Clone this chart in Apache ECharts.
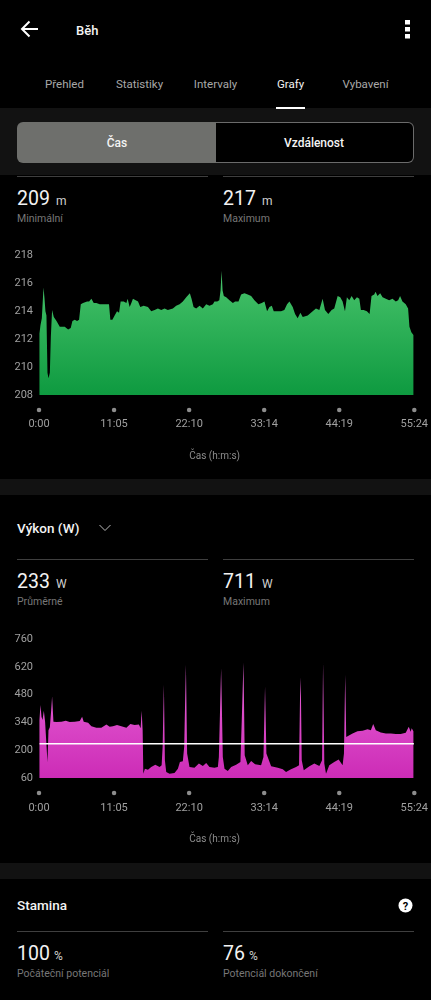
<!DOCTYPE html>
<html lang="cs"><head><meta charset="utf-8">
<script src="https://cdn.jsdelivr.net/npm/echarts@6/dist/echarts.min.js"></script>
<style>
html,body{margin:0;padding:0;background:#000;width:431px;height:1000px;overflow:hidden}
body{position:relative;font-family:Roboto,sans-serif;color:#fff}
#chart{position:absolute;left:0;top:0;width:431px;height:1000px}
.t{position:absolute;white-space:nowrap;line-height:1;transform:translateY(-50%)}
.c{transform:translate(-50%,-50%)}
.b{position:absolute;left:0;width:431px;background:#121212}
.l{position:absolute;height:1px;background:#3f3f3f}
.tab{font-size:11.5px;color:#a8a8a8}
.big{font-size:19.5px;color:#f2f2f2}
.unit{font-size:12px;color:#d0d0d0}
.sub{font-size:10.5px;color:#777}
.h{font-size:13.5px;font-weight:500;color:#f4f4f4}
svg{position:absolute}
</style></head><body>
<div class="b" style="top:108px;height:67px"></div>
<div class="b" style="top:479px;height:16px"></div>
<div class="b" style="top:863px;height:16px"></div>

<svg style="left:20px;top:19px" width="20" height="20" viewBox="0 0 20 20"><path d="M2 10H18M9.5 2.5L2 10L9.5 17.5" fill="none" stroke="#fff" stroke-width="2"/></svg>
<div class="t h" style="left:76px;top:30px;font-size:13px">Běh</div>
<svg style="left:404px;top:19px" width="8" height="21"><rect x="1" y="1" width="5" height="4.5" fill="#fff"/><rect x="1" y="8" width="5" height="4.5" fill="#fff"/><rect x="1" y="15" width="5" height="4.5" fill="#fff"/></svg>

<div class="t tab c" style="left:64.5px;top:85px">Přehled</div>
<div class="t tab c" style="left:139.5px;top:85px">Statistiky</div>
<div class="t tab c" style="left:215.5px;top:85px">Intervaly</div>
<div class="t tab c" style="left:290.5px;top:85px;color:#f2f2f2">Grafy</div>
<div class="t tab c" style="left:365.5px;top:85px">Vybavení</div>
<div style="position:absolute;left:276px;top:107px;width:29px;height:2px;background:#fff"></div>

<div style="position:absolute;left:17px;top:122px;width:199px;height:41px;background:#6e6f6c;border-radius:6px 0 0 6px"></div>
<div style="position:absolute;left:216px;top:122px;width:197px;height:39px;background:#000;border:1px solid #6b6b6b;border-left:0;border-radius:0 6px 6px 0"></div>
<div class="t c" style="left:117px;top:143px;font-size:12px;font-weight:500;color:#f4f4f4">Čas</div>
<div class="t c" style="left:314px;top:143px;font-size:12px;font-weight:500;color:#f4f4f4">Vzdálenost</div>

<div class="l" style="left:17px;top:176px;width:191px"></div>
<div class="l" style="left:223px;top:176px;width:191px"></div>
<div class="t big" style="left:17px;top:199px">209<span class="unit" style="margin-left:6px">m</span></div>
<div class="t sub" style="left:17px;top:219px">Minimální</div>
<div class="t big" style="left:223px;top:199px">217<span class="unit" style="margin-left:6px">m</span></div>
<div class="t sub" style="left:223px;top:219px">Maximum</div>

<div class="t h" style="left:17px;top:529px">Výkon (W)</div>
<svg style="left:98px;top:523px" width="14" height="10"><path d="M1.5 2L7 7.5L12.5 2" fill="none" stroke="#bbb" stroke-width="1"/></svg>
<div class="l" style="left:17px;top:559px;width:191px"></div>
<div class="l" style="left:223px;top:559px;width:191px"></div>
<div class="t big" style="left:17px;top:582px">233<span class="unit" style="margin-left:6px">W</span></div>
<div class="t sub" style="left:17px;top:602px">Průměrné</div>
<div class="t big" style="left:223px;top:582px">711<span class="unit" style="margin-left:6px">W</span></div>
<div class="t sub" style="left:223px;top:602px">Maximum</div>

<div class="t h" style="left:17px;top:906px">Stamina</div>
<svg style="left:398px;top:898px" width="15" height="15"><circle cx="7.5" cy="7.5" r="7" fill="#fff"/><text x="7.5" y="11.5" text-anchor="middle" font-family="Roboto" font-size="11" font-weight="700" fill="#000">?</text></svg>
<div class="l" style="left:17px;top:931px;width:191px"></div>
<div class="l" style="left:223px;top:931px;width:191px"></div>
<div class="t big" style="left:17px;top:954px">100<span class="unit" style="margin-left:4px">%</span></div>
<div class="t sub" style="left:17px;top:974px">Počáteční potenciál</div>
<div class="t big" style="left:223px;top:954px">76<span class="unit" style="margin-left:4px">%</span></div>
<div class="t sub" style="left:223px;top:974px">Potenciál dokončení</div>

<div id="chart"></div>
<script>
const tickLabels = ['0:00','11:05','22:10','33:14','44:19','55:24'];
const tickSeconds = [0,664.8,1329.6,1994.4,2659.2,3324];
const elevationTicks = [208,210,212,214,216,218];
const powerTicks = [60,200,340,480,620,760];
const axisTitle = 'Čas (h:m:s)';
const averagePower = 233;

const elevationPoints = [[4,212.4],[13,213.0],[25,213.5],[40,215.7],[49,214.9],[57,214.0],[66,213.7],[75,209.6],[84,209.2],[96,209.6],[105,212.2],[116,214.1],[131,213.6],[155,213.3],[184,212.9],[228,212.9],[258,212.7],[281,212.8],[296,213.3],[317,213.4],[337,213.3],[355,213.4],[370,214.5],[390,214.6],[405,214.7],[426,214.7],[444,214.7],[464,214.9],[485,214.6],[508,214.6],[538,214.5],[567,214.5],[597,214.5],[620,214.5],[632,213.4],[650,213.4],[670,213.7],[691,214.0],[709,213.9],[723,214.7],[750,214.7],[774,214.6],[785,214.9],[803,214.3],[818,214.6],[832,214.9],[856,214.8],[877,214.7],[897,214.3],[927,214.4],[965,214.3],[994,214.0],[1024,214.1],[1053,214.2],[1083,214.1],[1112,214.2],[1141,214.1],[1186,214.2],[1215,214.4],[1245,214.5],[1274,214.7],[1304,215.0],[1336,215.3],[1351,214.9],[1369,214.3],[1392,214.2],[1422,214.4],[1451,214.2],[1481,214.5],[1510,214.4],[1540,214.5],[1554,214.7],[1578,214.7],[1597,214.8],[1608,215.5],[1617,216.9],[1626,215.5],[1637,215.1],[1658,215.0],[1687,214.8],[1717,214.6],[1737,214.7],[1767,214.7],[1790,215.2],[1820,215.3],[1849,215.2],[1879,215.1],[1908,214.8],[1943,214.5],[1973,214.6],[1997,214.7],[2020,214.0],[2041,214.3],[2062,214.4],[2079,214.0],[2115,214.0],[2144,214.0],[2173,214.1],[2197,214.5],[2218,214.7],[2247,214.3],[2268,213.8],[2291,213.5],[2315,213.9],[2336,213.6],[2380,213.7],[2424,214.0],[2453,214.2],[2483,214.1],[2512,214.9],[2533,214.1],[2562,213.8],[2592,214.1],[2615,214.2],[2645,215.1],[2668,215.0],[2689,214.7],[2710,214.0],[2727,215.0],[2748,214.8],[2769,215.1],[2792,214.8],[2816,215.0],[2837,214.9],[2851,214.1],[2875,214.1],[2904,214.0],[2928,213.8],[2945,215.1],[2969,215.2],[2981,215.4],[2998,215.1],[3022,215.3],[3043,215.0],[3072,214.9],[3101,214.8],[3131,214.9],[3160,214.7],[3181,214.8],[3198,215.1],[3219,214.7],[3248,214.5],[3269,214.2],[3281,212.9],[3298,212.5],[3316,212.3]];

const powerPoints = [[4,352],[13,428],[22,369],[31,352],[43,399],[54,343],[66,335],[75,141],[84,301],[96,315],[108,402],[116,470],[128,343],[155,342],[199,343],[237,348],[272,342],[317,343],[361,347],[382,369],[396,343],[435,338],[464,321],[508,313],[552,313],[597,330],[626,318],[655,321],[691,327],[729,321],[774,313],[809,332],[847,327],[885,330],[900,310],[909,399],[918,301],[924,82],[938,107],[965,102],[994,116],[1030,127],[1068,116],[1086,124],[1095,217],[1106,529],[1115,149],[1127,90],[1156,82],[1200,85],[1230,107],[1248,141],[1274,144],[1286,217],[1301,630],[1312,183],[1333,116],[1377,111],[1416,133],[1451,121],[1481,136],[1510,116],[1554,112],[1584,116],[1593,166],[1613,613],[1628,166],[1643,107],[1672,95],[1702,116],[1746,127],[1784,141],[1796,352],[1811,642],[1822,175],[1849,124],[1879,146],[1914,129],[1967,124],[1988,166],[2002,521],[2014,183],[2056,119],[2115,112],[2159,104],[2188,90],[2232,104],[2277,116],[2303,124],[2312,470],[2318,568],[2327,149],[2345,99],[2395,119],[2439,133],[2483,121],[2507,149],[2516,639],[2527,133],[2542,82],[2571,124],[2615,141],[2654,153],[2689,124],[2701,183],[2712,580],[2721,267],[2733,264],[2777,284],[2821,296],[2866,298],[2910,305],[2939,301],[2960,332],[2983,301],[3027,289],[3072,284],[3116,284],[3160,281],[3204,281],[3248,288],[3275,318],[3292,293],[3301,310],[3316,296]];

const grey = '#a0a0a0';
function xAxis(i){
  return {
    type:'value', gridIndex:i, min:0, max:3324, interval:664.8,
    name:axisTitle, nameLocation:'middle', nameGap:61, nameMoveOverlap:false,
    nameTextStyle:{color:'#8c8c8c',fontSize:10,fontFamily:'Roboto',verticalAlign:'middle',padding:[0,24,0,0]},
    axisLine:{show:false}, axisTick:{show:false}, splitLine:{show:false},
    axisLabel:{show:true,showMinLabel:true,showMaxLabel:true,color:grey,fontSize:11,fontFamily:'Roboto',margin:i?25:24,
      formatter:v=>tickLabels[Math.round(v/664.8)]}
  };
}
function yAxis(i,ticks){
  const step = ticks[1]-ticks[0];
  return {
    type:'value', gridIndex:i, min:ticks[0], max:ticks[ticks.length-1], interval:step,
    axisLine:{show:false}, axisTick:{show:false}, splitLine:{show:false},
    axisLabel:{color:grey,fontSize:11,fontFamily:'Roboto',margin:6,padding:[4,0,0,0]}
  };
}
function area(i,points,top,bottom){
  return {
    type:'line', xAxisIndex:i, yAxisIndex:i, data:points, symbol:'none', smooth:false, silent:true,
    lineStyle:{width:0},
    areaStyle:{opacity:1,color:new echarts.graphic.LinearGradient(0,0,0,1,[{offset:0,color:top},{offset:1,color:bottom}])}
  };
}
function dots(i,base){
  return {
    type:'scatter', xAxisIndex:i, yAxisIndex:i, clip:false, silent:true, symbolSize:4.5,
    symbolOffset:[0,15], itemStyle:{color:'#b0b0b0'},
    data:tickSeconds.map(t=>[t,base])
  };
}
const chart = echarts.init(document.getElementById('chart'),null,{renderer:'canvas'});
chart.setOption({
  backgroundColor:'transparent', animation:false,
  grid:[
    {left:39,width:376,top:255.5,height:139.5},
    {left:39,width:376,top:639,height:139}
  ],
  xAxis:[xAxis(0),xAxis(1)],
  yAxis:[yAxis(0,elevationTicks),yAxis(1,powerTicks)],
  series:[
    area(0,elevationPoints,'#48c36b','#0e9a40'),
    area(1,powerPoints,'#ea66da','#cc2cb6'),
    {type:'line',xAxisIndex:1,yAxisIndex:1,symbol:'none',silent:true,z:5,
      data:[[5,averagePower],[3320,averagePower]],lineStyle:{color:'#fff',width:1.5}},
    dots(0,elevationTicks[0]),
    dots(1,powerTicks[0])
  ]
});
</script>
</body></html>
